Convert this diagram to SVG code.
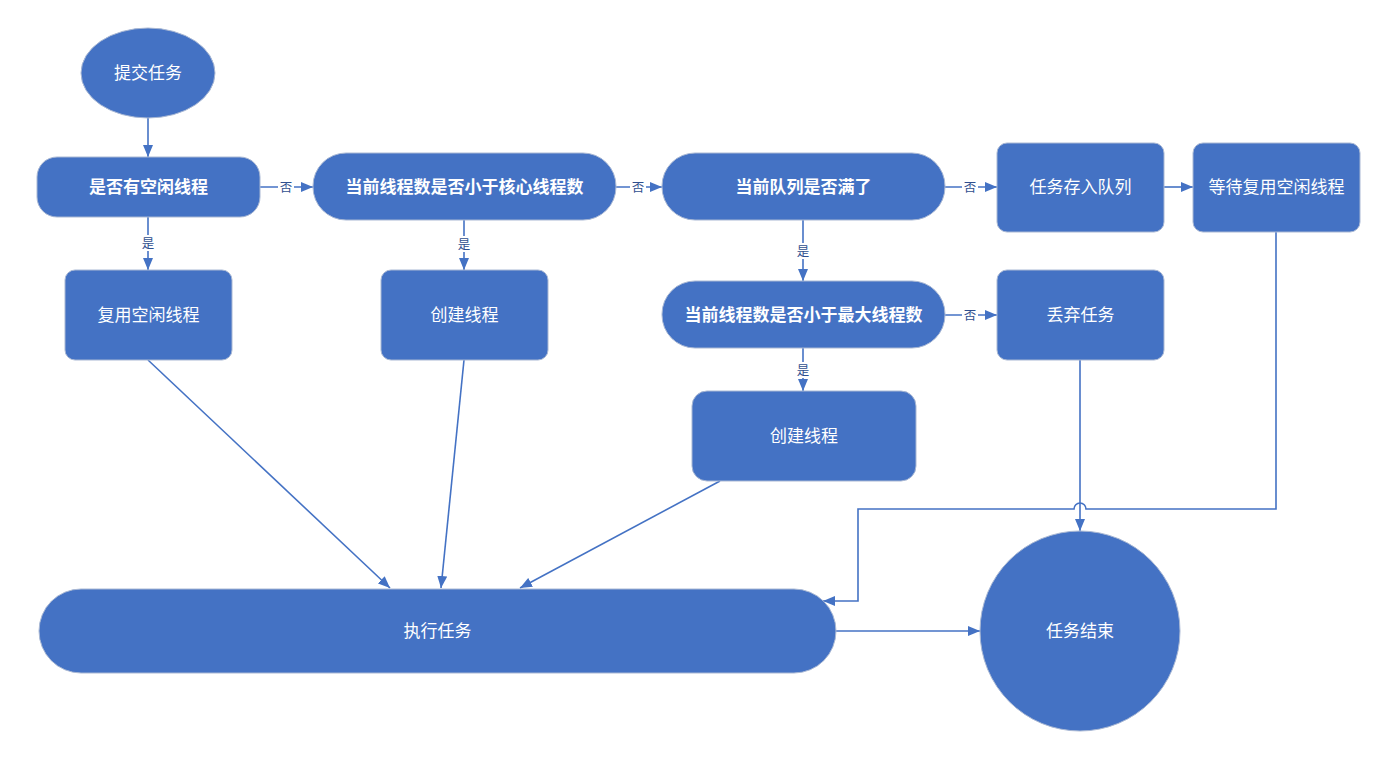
<svg xmlns="http://www.w3.org/2000/svg" width="1397" height="760" viewBox="0 0 1397 760">
<defs>
<marker id="ah" viewBox="0 0 12 10" refX="12" refY="5" markerWidth="12" markerHeight="10" markerUnits="userSpaceOnUse" orient="auto">
<path d="M0,0 L12,5 L0,10 Z" fill="#4472C4"/>
</marker>
<style>
.n{fill:#4472C4;stroke:#A9B8D4;stroke-width:1}
.t{font-family:"Microsoft YaHei","Noto Sans CJK SC",sans-serif;font-size:17px;fill:#fff;text-anchor:middle;dominant-baseline:central}
.b{font-weight:bold}
.c{fill:none;stroke:#4472C4;stroke-width:1.6}
.a{marker-end:url(#ah)}
.lb{fill:#fff}
.l{font-family:"Noto Sans CJK SC",sans-serif;font-size:12.5px;fill:#2F4F8F;text-anchor:middle;dominant-baseline:central}
</style>
</defs>
<rect width="1397" height="760" fill="#fff"/>
<g id="connectors">
<path class="c a" d="M148,118 V157"/>
<path class="c a" d="M260,187 H313"/>
<path class="c a" d="M148,217 V270"/>
<path class="c a" d="M616,187 H662"/>
<path class="c a" d="M464,220 V270"/>
<path class="c a" d="M945,187 H997"/>
<path class="c a" d="M1164,187 H1193"/>
<path class="c a" d="M803,220 V281"/>
<path class="c a" d="M945,315 H997"/>
<path class="c a" d="M803,348 V391"/>
<path class="c a" d="M148,360 L390,588"/>
<path class="c a" d="M464,360 L441,588"/>
<path class="c a" d="M720,481 L520,588"/>
<path class="c a" d="M1080,360 V531"/>
<path class="c a" d="M1276,232 V509 H1086 A6,6 0 0 0 1074,509 H858 V601 H823"/>
<path class="c a" d="M836,631 H980"/>
<rect class="lb" x="278" y="179" width="16" height="16"/>
<text class="l" x="286" y="186">否</text>
<rect class="lb" x="140" y="235" width="16" height="16"/>
<text class="l" x="148" y="242">是</text>
<rect class="lb" x="630" y="179" width="16" height="16"/>
<text class="l" x="638" y="186">否</text>
<rect class="lb" x="456" y="236" width="16" height="16"/>
<text class="l" x="464" y="243">是</text>
<rect class="lb" x="962" y="179" width="16" height="16"/>
<text class="l" x="970" y="186">否</text>
<rect class="lb" x="795" y="243" width="16" height="16"/>
<text class="l" x="803" y="250">是</text>
<rect class="lb" x="962" y="307" width="16" height="16"/>
<text class="l" x="970" y="314">否</text>
<rect class="lb" x="795" y="362" width="16" height="16"/>
<text class="l" x="803" y="369">是</text>
</g>
<g id="submit">
<ellipse class="n" cx="148" cy="73" rx="67" ry="45"/>
<text class="t" x="148" y="71.5">提交任务</text>
</g>
<g id="idle">
<rect class="n" x="37" y="157" width="223" height="60" rx="20"/>
<text class="t b" x="148.5" y="185.5">是否有空闲线程</text>
</g>
<g id="core">
<rect class="n" x="313" y="153" width="303" height="67" rx="33"/>
<text class="t b" x="464.5" y="185.5">当前线程数是否小于核心线程数</text>
</g>
<g id="queuefull">
<rect class="n" x="662" y="153" width="283" height="67" rx="33"/>
<text class="t b" x="803.5" y="185.5">当前队列是否满了</text>
</g>
<g id="enqueue">
<rect class="n" x="997" y="143" width="167" height="89" rx="10"/>
<text class="t" x="1080.5" y="185.5">任务存入队列</text>
</g>
<g id="wait">
<rect class="n" x="1193" y="143" width="167" height="89" rx="10"/>
<text class="t" x="1276.5" y="185.5">等待复用空闲线程</text>
</g>
<g id="reuse">
<rect class="n" x="65" y="270" width="167" height="90" rx="10"/>
<text class="t" x="148.5" y="313.5">复用空闲线程</text>
</g>
<g id="create1">
<rect class="n" x="381" y="270" width="167" height="90" rx="10"/>
<text class="t" x="464.5" y="313.5">创建线程</text>
</g>
<g id="max">
<rect class="n" x="662" y="281" width="283" height="67" rx="33"/>
<text class="t b" x="803.5" y="313.5">当前线程数是否小于最大线程数</text>
</g>
<g id="discard">
<rect class="n" x="997" y="270" width="167" height="90" rx="10"/>
<text class="t" x="1080.5" y="313.5">丢弃任务</text>
</g>
<g id="create2">
<rect class="n" x="692" y="391" width="224" height="90" rx="15"/>
<text class="t" x="804" y="434.5">创建线程</text>
</g>
<g id="exec">
<rect class="n" x="39" y="589" width="797" height="84" rx="42"/>
<text class="t" x="437.5" y="629.5">执行任务</text>
</g>
<g id="end">
<circle class="n" cx="1080" cy="631" r="100"/>
<text class="t" x="1080" y="629.5">任务结束</text>
</g>
</svg>
